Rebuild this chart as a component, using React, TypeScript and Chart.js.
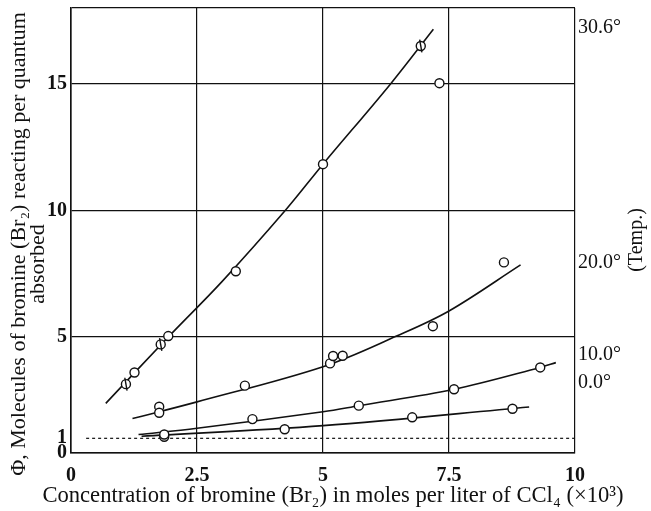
import React, { useEffect, useRef } from "react";
import { Chart, registerables } from "chart.js";

Chart.register(...registerables);

// ---------- data ----------
const xTickValues = [0, 2.5, 5, 7.5, 10];
const xTickLabels = ["0", "2.5", "5", "7.5", "10"];
const yTickValues = [0.42, 1, 5, 10, 15, 18];
const yTickLabels = ["0", "1", "5", "10", "15", ""];
const tempTickValues = [17.21, 7.92, 4.29, 3.18];
const tempTickLabels = ["30.6°", "20.0°", "10.0°", "0.0°"];

const xTitle = "Concentration of bromine (Br₂) in moles per liter of CCl₄ (×10³)";
const yTitleLines = ["Φ, Molecules of bromine (Br₂) reacting per quantum", "absorbed"];
const rightTitle = "(Temp.)";

// 30.6 °C
const t306X = [1.09, 1.26, 1.78, 1.93, 3.27, 5.0, 6.94];
const t306Y = [3.14, 3.6, 4.71, 5.04, 7.6, 11.83, 16.5];
const fit306X = [0.69, 1.93, 3.0, 4.25, 5.0, 6.34, 7.19];
const fit306Y = [2.38, 5.0, 7.2, 10.0, 11.83, 15.0, 17.16];
const outlierX = [7.31];
const outlierY = [15.03];
const errX = [1.09, 1.78, 6.94];
const errY = [3.14, 4.71, 16.5];

// 20.0 °C
const t20X = [1.75, 1.75, 3.45, 5.14, 5.2, 5.39, 7.18, 8.59];
const t20Y = [2.25, 2.01, 3.08, 3.96, 4.25, 4.26, 5.43, 7.95];
const fit20X = [1.22, 2.5, 5.0, 6.46, 7.5, 8.92];
const fit20Y = [1.78, 2.44, 3.83, 5.04, 6.03, 7.85];

// 10.0 °C
const t10X = [1.85, 3.6, 5.71, 7.6, 9.31];
const t10Y = [1.15, 1.76, 2.29, 2.94, 3.8];
const fit10X = [1.34, 2.5, 5.0, 5.71, 7.6, 9.31, 9.62];
const fit10Y = [1.15, 1.4, 2.05, 2.29, 2.94, 3.8, 3.99];

// 0.0 °C
const t0X = [1.85, 4.24, 6.77, 8.76];
const t0Y = [1.06, 1.36, 1.83, 2.17];
const fit0X = [1.4, 5.0, 9.09];
const fit0Y = [1.08, 1.5, 2.24];

// reference line Φ = 1
const refX = [0.3, 10];
const refY = [1, 1];

const pts = (xs: number[], ys: number[]) => xs.map((x, i) => ({ x, y: ys[i] }));

const FONT = "'Liberation Serif', 'DejaVu Serif', 'Times New Roman', serif";
const INK = "#111";

export default function App() {
  const ref = useRef<HTMLCanvasElement | null>(null);

  useEffect(() => {
    if (!ref.current) return;

    const curve = (xs: number[], ys: number[]) => ({
      type: "line" as const,
      data: pts(xs, ys),
      borderColor: INK,
      borderWidth: 1.6,
      pointRadius: 0,
      fill: false,
      tension: 0.35,
      order: 3,
    });
    const marks = (xs: number[], ys: number[]) => ({
      type: "scatter" as const,
      data: pts(xs, ys),
      showLine: false,
      pointRadius: 4.5,
      pointBorderWidth: 1.4,
      pointBackgroundColor: "#fff",
      pointBorderColor: INK,
      borderColor: INK,
      backgroundColor: "#fff",
      order: 1,
    });

    const titles = {
      id: "titles",
      afterDraw(chart: any) {
        const { ctx } = chart;
        ctx.save();
        ctx.fillStyle = INK;
        ctx.textAlign = "center";
        ctx.textBaseline = "middle";
        // x title
        ctx.font = `22.6px ${FONT}`;
        ctx.fillText(xTitle, 333, 496);
        // y title (rotated)
        ctx.font = `22px ${FONT}`;
        ctx.save();
        ctx.translate(19, 244);
        ctx.rotate(-Math.PI / 2);
        ctx.fillText(yTitleLines[0], 0, 0);
        ctx.restore();
        ctx.save();
        ctx.translate(38, 264);
        ctx.rotate(-Math.PI / 2);
        ctx.fillText(yTitleLines[1], 0, 0);
        ctx.restore();
        // right title
        ctx.save();
        ctx.font = `20px ${FONT}`;
        ctx.translate(637, 240);
        ctx.rotate(-Math.PI / 2);
        ctx.fillText(rightTitle, 0, 0);
        ctx.restore();
        ctx.restore();
      },
    };

    const chart = new Chart(ref.current, {
      type: "scatter",
      data: {
        datasets: [
          {
            type: "line",
            data: pts(refX, refY),
            borderColor: INK,
            borderWidth: 1.2,
            borderDash: [3, 3],
            pointRadius: 0,
            fill: false,
            order: 4,
          } as any,
          curve(fit306X, fit306Y),
          curve(fit20X, fit20Y),
          curve(fit10X, fit10Y),
          curve(fit0X, fit0Y),
          {
            type: "scatter",
            data: pts(errX, errY),
            pointStyle: "line",
            rotation: 80,
            pointRadius: 6.5,
            pointBorderWidth: 1.4,
            borderColor: INK,
            pointBorderColor: INK,
            order: 0,
          } as any,
          marks(t306X, t306Y),
          marks(outlierX, outlierY),
          marks(t20X, t20Y),
          marks(t10X, t10Y),
          marks(t0X, t0Y),
        ] as any,
      },
      options: {
        animation: false,
        responsive: true,
        maintainAspectRatio: false,
        layout: { padding: { top: 8, left: 0, right: 0, bottom: 0 } },
        plugins: {
          legend: { display: false },
          tooltip: { enabled: false },
        },
        scales: {
          x: {
            type: "linear",
            min: 0,
            max: 10,
            afterBuildTicks: (axis: any) => {
              axis.ticks = xTickValues.map((v) => ({ value: v }));
            },
            afterFit: (axis: any) => {
              axis.height = 58;
              axis.paddingLeft = 0;
              axis.paddingRight = 0;
            },
            ticks: {
              padding: 11,
              color: INK,
              font: { family: FONT, size: 20, weight: "bold" },
              callback: (v: any) => {
                const i = xTickValues.indexOf(Number(v));
                return i >= 0 ? xTickLabels[i] : "";
              },
              maxRotation: 0,
              autoSkip: false,
            },
            grid: { color: INK, lineWidth: 1.2, drawTicks: false },
            border: { color: INK, width: 1.6 },
          },
          y: {
            type: "linear",
            position: "left",
            min: 0.42,
            max: 18,
            afterBuildTicks: (axis: any) => {
              axis.ticks = yTickValues.map((v) => ({ value: v }));
            },
            afterFit: (axis: any) => {
              axis.width = 71;
              axis.paddingTop = 0;
              axis.paddingBottom = 0;
            },
            ticks: {
              padding: 4,
              color: INK,
              font: { family: FONT, size: 20, weight: "bold" },
              autoSkip: false,
              callback: (v: any) => {
                const i = yTickValues.indexOf(Number(v));
                return i >= 0 ? yTickLabels[i] : "";
              },
            },
            grid: {
              drawTicks: false,
              lineWidth: 1.2,
              color: (c: any) =>
                c.tick && c.tick.value === 1 ? "rgba(0,0,0,0)" : INK,
            },
            border: { color: INK, width: 1.6 },
          },
          y2: {
            type: "linear",
            position: "right",
            min: 0.42,
            max: 18,
            afterBuildTicks: (axis: any) => {
              axis.ticks = tempTickValues.map((v) => ({ value: v }));
            },
            afterFit: (axis: any) => {
              axis.width = 76;
              axis.paddingTop = 0;
              axis.paddingBottom = 0;
            },
            ticks: {
              padding: 3,
              color: INK,
              font: { family: FONT, size: 20 },
              autoSkip: false,
              callback: (v: any) => {
                const i = tempTickValues.indexOf(Number(v));
                return i >= 0 ? tempTickLabels[i] : "";
              },
            },
            grid: { display: false, drawTicks: false },
            border: { display: false },
          },
        },
      } as any,
      plugins: [titles],
    });

    return () => chart.destroy();
  }, []);

  return (
    <div style={{ position: "absolute", left: 0, top: 0, width: 651, height: 511, background: "#fff" }}>
      <canvas ref={ref} />
    </div>
  );
}
